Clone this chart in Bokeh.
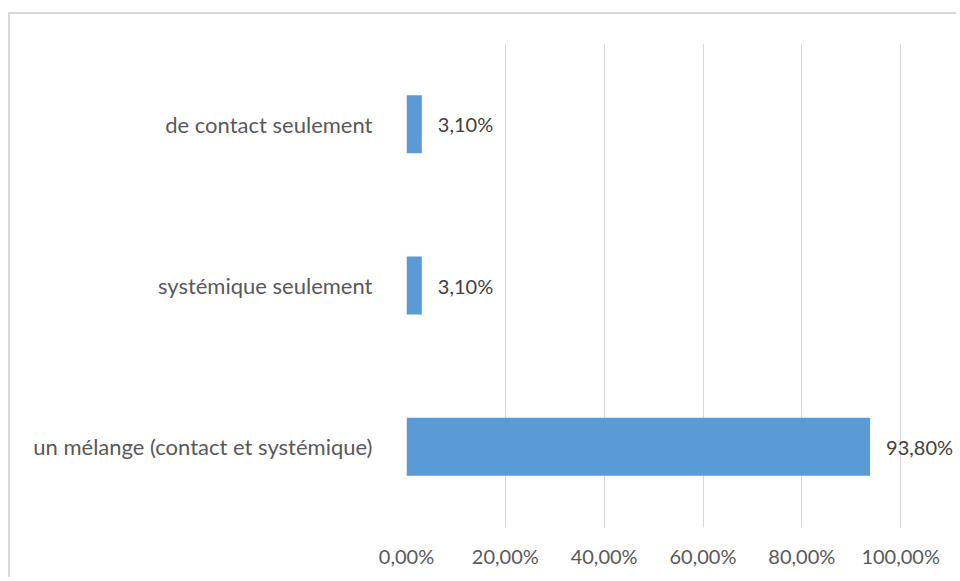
from bokeh.plotting import figure
from bokeh.models import ColumnDataSource, FactorRange, Range1d, FixedTicker
from bokeh.core.properties import value
from bokeh.embed import file_html
from bokeh.resources import INLINE

categories = ["un mélange (contact et systémique)", "systémique seulement", "de contact seulement"]
values = [93.8, 3.1, 3.1]
tick_values = [0, 20, 40, 60, 80, 100]
tick_labels = ["0,00%", "20,00%", "40,00%", "60,00%", "80,00%", "100,00%"]

labels = [f"{v:.2f}".replace(".", ",") + "%" for v in values]
src = ColumnDataSource(dict(cat=categories, val=values, lab=labels))

FONT = "Lato"
FS = "22px"
FS_NUM = "20px"

p = figure(width=948, height=565, output_backend="svg", toolbar_location=None,
           y_range=FactorRange(factors=categories, range_padding=0),
           x_range=Range1d(0, 111.7),
           min_border_left=396, min_border_top=29, min_border_bottom=52, min_border_right=0)
p.styles = {"border-top": "2px solid #d9d9d9", "border-left": "2px solid #d9d9d9",
            "margin-top": "12px", "margin-left": "8px"}
p.outline_line_color = None

p.hbar(y="cat", right="val", left=0, height=0.36, source=src, color="#5B9BD5", line_color=None)
p.text(x="val", y="cat", text="lab", source=src, x_offset=16, text_align="left", text_baseline="middle",
       text_font=value(FONT), text_font_size=FS_NUM, text_color="#404040")

p.xaxis.ticker = FixedTicker(ticks=tick_values)
p.xaxis.major_label_overrides = {t: l for t, l in zip(tick_values, tick_labels)}
for ax in (p.xaxis, p.yaxis):
    ax.axis_line_color = None
    ax.major_tick_line_color = None
    ax.minor_tick_line_color = None
    ax.major_label_text_font = FONT
    ax.major_label_text_color = "#595959"
p.yaxis.major_label_text_font_size = FS
p.xaxis.major_label_text_font_size = FS_NUM
p.xaxis.major_label_standoff = 10
p.yaxis.major_label_standoff = 28

p.xgrid.ticker = FixedTicker(ticks=tick_values)
p.xgrid.grid_line_color = "#d9d9d9"
p.xgrid.grid_line_width = 1
p.ygrid.grid_line_color = None

open("out.html", "w").write(file_html(p, INLINE))
